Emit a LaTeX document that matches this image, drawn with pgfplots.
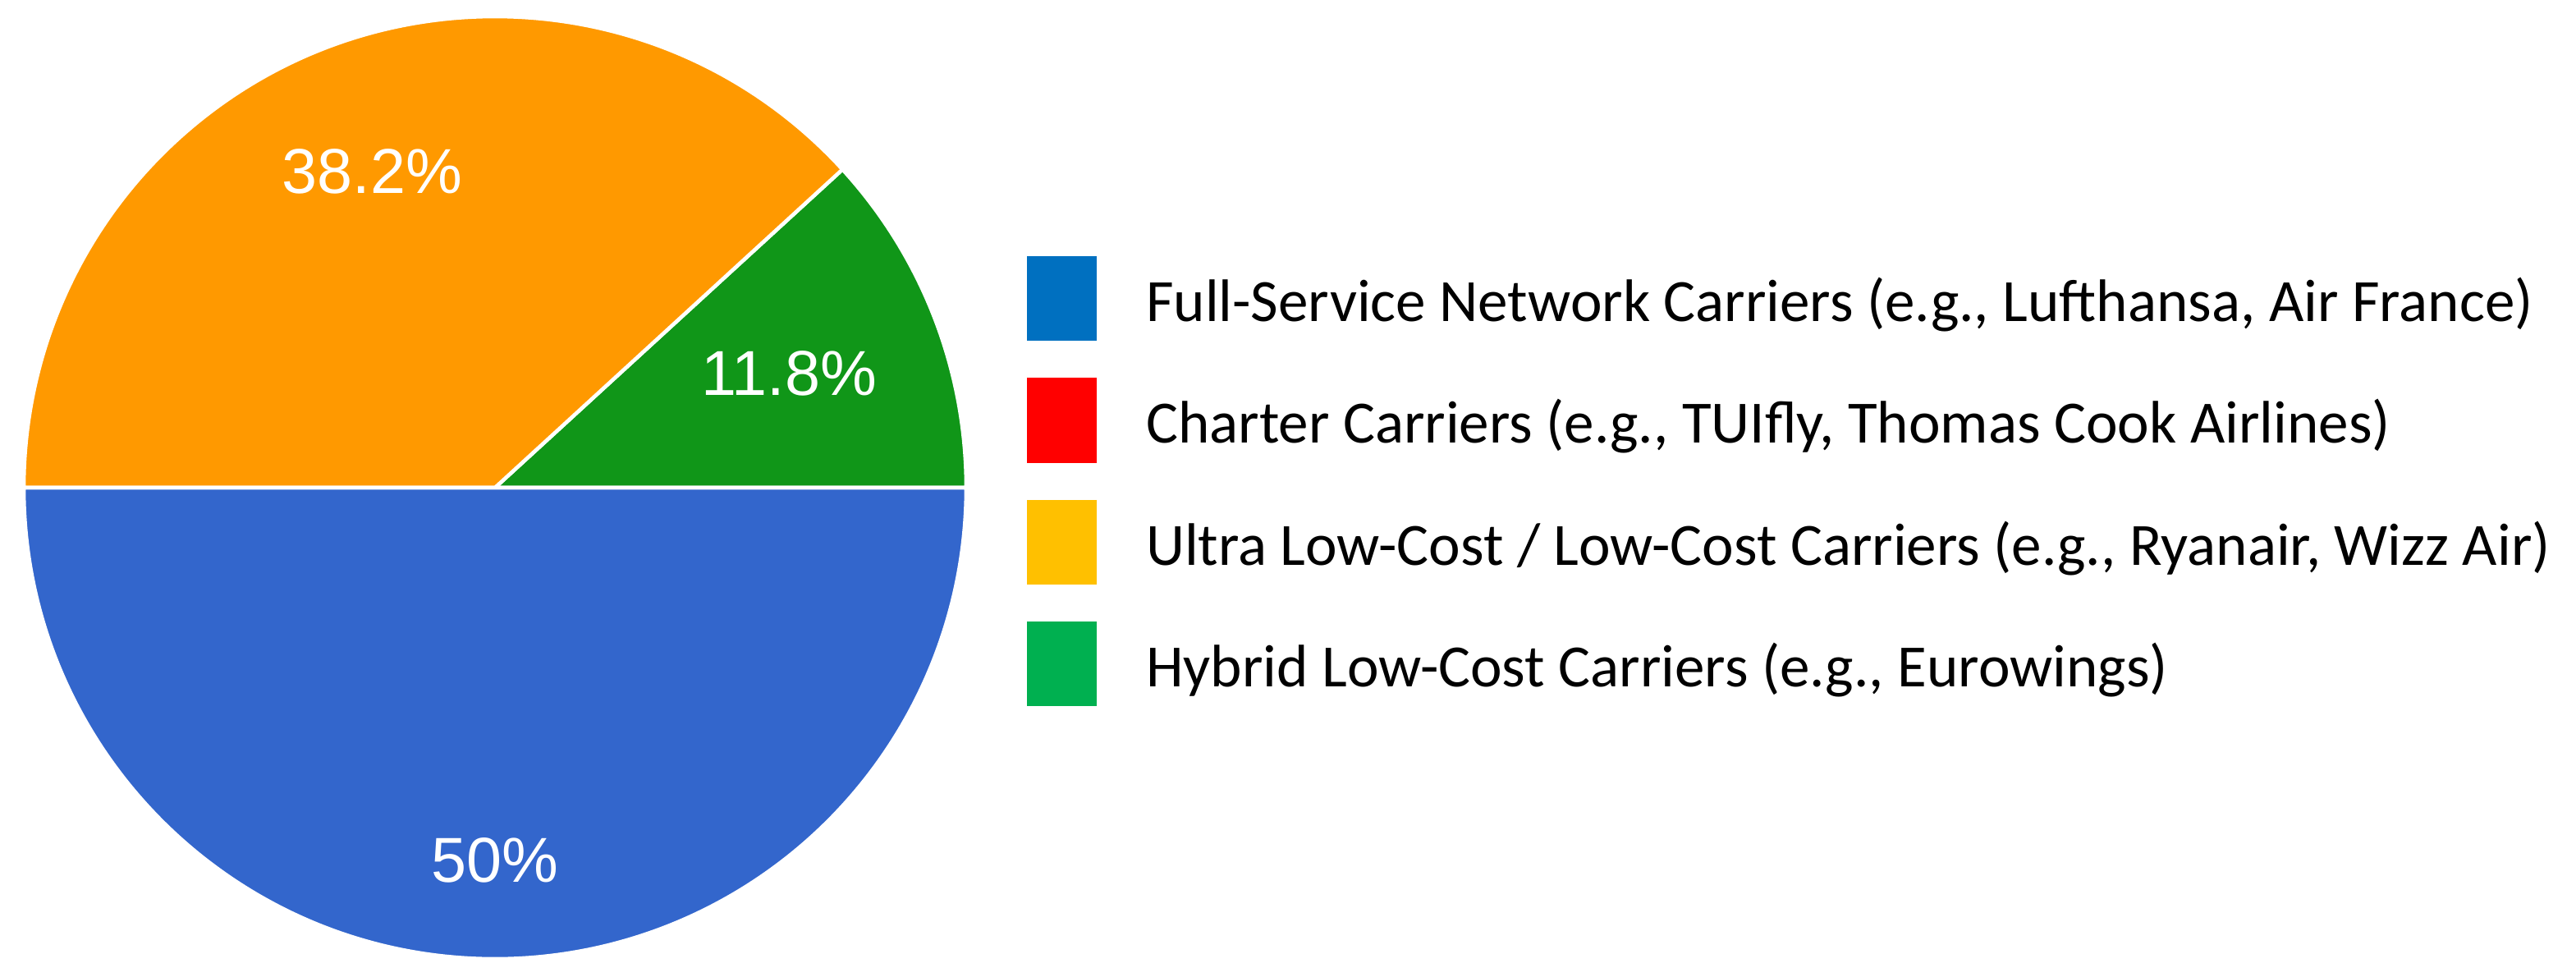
\documentclass[border=0pt]{standalone}
\usepackage{fontspec}
\setmainfont{Carlito}
\newfontfamily\labelfont{Liberation Sans}
\usepackage{pgfplots}
\usepackage{pgfplotstable}
\pgfplotsset{compat=1.18}

\definecolor{SliceBlue}{HTML}{3366CC}
\definecolor{SliceOrange}{HTML}{FF9900}
\definecolor{SliceGreen}{HTML}{109618}
\definecolor{KeyBlue}{HTML}{0070C0}
\definecolor{KeyRed}{HTML}{FF0000}
\definecolor{KeyYellow}{HTML}{FFC000}
\definecolor{KeyGreen}{HTML}{00B050}

% share in %, start angle (deg), label radius as fraction of R
\pgfplotstableread{
share start labr col
11.8  0     0.67 SliceGreen
38.2  42.48 0.72 SliceOrange
50    180   0.79 SliceBlue
}\slices

\def\R{5.74cm}

\begin{document}
\begin{tikzpicture}
\path[use as bounding box] (0,0) rectangle (31.38cm,11.89cm);
\begin{axis}[
    at={(6.03cm,5.95cm)}, anchor=center,
    width=11.48cm, height=11.48cm, scale only axis,
    xmin=-1, xmax=1, ymin=-1, ymax=1,
    hide axis, clip=false,
    legend style={at={(axis description cs:1.0636,0.7465)}, anchor=north west,
        draw=none, fill=none, inner sep=0pt, row sep=0.45cm, column sep=0.6cm,
        nodes={inner sep=0pt},
        font=\fontsize{20.8}{25}\selectfont},
    legend cell align=left,
    legend image code/.code={\fill[#1] (0cm,-0.47cm) rectangle (0.84cm,0.55cm);},
]
\pgfplotsforeachungrouped \i in {0,1,2} {
    \pgfplotstablegetelem{\i}{share}\of\slices \let\sh\pgfplotsretval
    \pgfplotstablegetelem{\i}{start}\of\slices \let\st\pgfplotsretval
    \pgfplotstablegetelem{\i}{labr}\of\slices \let\lr\pgfplotsretval
    \pgfplotstablegetelem{\i}{col}\of\slices \let\cl\pgfplotsretval
    \pgfmathsetmacro\en{\st+3.6*\sh}
    \pgfmathsetmacro\md{\st+1.8*\sh}
    \edef\temp{%
        \noexpand\fill[\cl, draw=white, line width=1.3pt, line join=round]
            (axis cs:0,0) -- (axis cs:{cos(\st)},{sin(\st)})
            arc[start angle=\st, end angle=\en, radius=\R] -- cycle;
        \noexpand\node[text=white, font=\noexpand\labelfont\noexpand\fontsize{22}{26}\noexpand\selectfont]
            at (axis cs:{\lr*cos(\md)},{\lr*sin(\md)}) {\sh\noexpand\%};
    }
    \temp
}
\addlegendimage{KeyBlue}
\addlegendentry{Full-Service Network Carriers (e.g., Lufthansa, Air France)}
\addlegendimage{KeyRed}
\addlegendentry{Charter Carriers (e.g., TUIfly, Thomas Cook Airlines)}
\addlegendimage{KeyYellow}
\addlegendentry{Ultra Low-Cost / Low-Cost Carriers (e.g., Ryanair, Wizz Air)}
\addlegendimage{KeyGreen}
\addlegendentry{Hybrid Low-Cost Carriers (e.g., Eurowings)}
\end{axis}
\end{tikzpicture}
\end{document}
